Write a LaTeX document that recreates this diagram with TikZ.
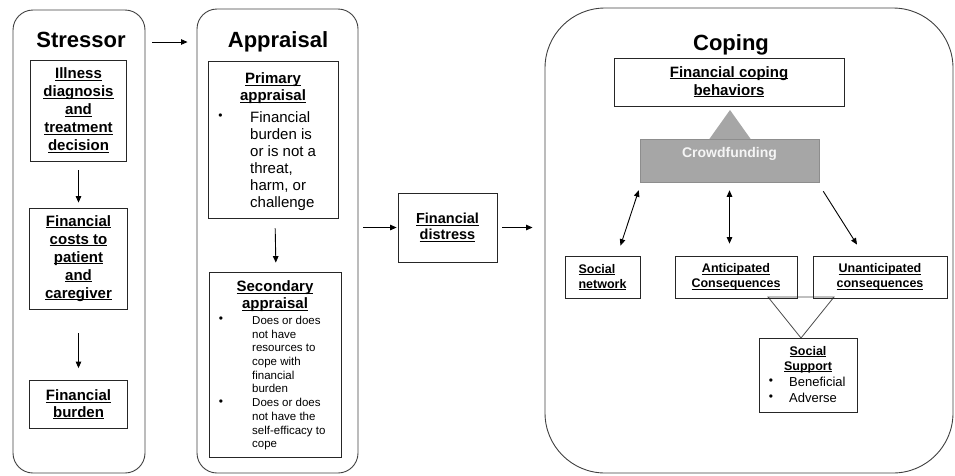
\documentclass[tikz,border=0pt]{standalone}
\usepackage{fontspec}
\setmainfont{Liberation Sans}
\usetikzlibrary{arrows.meta}
\newsavebox\ulbox
\newcommand\ulin[1]{\sbox\ulbox{#1}\rlap{\rule[-1.9pt]{\wd\ulbox}{0.9pt}}\usebox\ulbox}
\definecolor{cfgray}{HTML}{A6A6A6}
\definecolor{lineg}{HTML}{404040}
\definecolor{cftext}{HTML}{F5F5F5}
\begin{document}
\begin{tikzpicture}[x=1pt,y=-1pt,
  cont/.style={draw=lineg,line width=0.9pt,inner sep=0pt},
  box/.style={draw=black!85,line width=0.8pt,inner sep=0pt,align=center,
    font=\bfseries\fontsize{15}{18}\selectfont},
  smallbox/.style={box,font=\bfseries\fontsize{12.5}{15}\selectfont},
  ttl/.style={inner sep=0pt,anchor=base,font=\bfseries\fontsize{22}{26}\selectfont},
  head/.style={inner sep=0pt,align=center,font=\bfseries\fontsize{15}{17}\selectfont},
  lst/.style={inner sep=0pt,align=left,anchor=north west},
  bul/.style={inner sep=0pt,font=\fontsize{12}{12}\selectfont},
  arr/.style={line width=0.9pt,-{Triangle[length=6.5pt,width=5.5pt]}},
  dbl/.style={line width=0.9pt,{Triangle[length=6.5pt,width=5.5pt]}-{Triangle[length=6.5pt,width=5.5pt]}}]
\useasboundingbox (0,0) rectangle (955,475);
% containers
\node[cont,rounded corners=20pt,minimum width=132pt,minimum height=463pt] (stressor) at (79,241.5) {};
\node[cont,rounded corners=20pt,minimum width=161pt,minimum height=464pt] (appraisal) at (277.5,241) {};
\node[cont,rounded corners=60pt,minimum width=408pt,minimum height=465pt] (coping) at (749,240.5) {};
% titles
\node[ttl] (tstress) at (81,47) {Stressor};
\node[ttl] (tapp) at (278,47) {Appraisal};
\node[ttl] (tcop) at (731,50) {Coping};
% stressor column
\node[box,minimum width=96pt,minimum height=101pt] (ill) at (78.5,110.5)
  {\ulin{Illness}\\\ulin{diagnosis}\\\ulin{and}\\\ulin{treatment}\\\ulin{decision}};
\node[box,minimum width=98pt,minimum height=101pt] (costs) at (78.5,258.5)
  {\ulin{Financial}\\\ulin{costs to}\\\ulin{patient}\\\ulin{and}\\\ulin{caregiver}};
\node[box,minimum width=98pt,minimum height=48pt,font=\bfseries\fontsize{15}{16.5}\selectfont] (burden) at (78.5,404.5)
  {\ulin{Financial}\\\ulin{burden}};
% appraisal column
\node[box,minimum width=130pt,minimum height=157pt] (primary) at (273,139.5) {};
\node[head] (primh) at (273,88.5) {\ulin{Primary}\\\ulin{appraisal}};
\node[lst,font=\fontsize{15}{17}\selectfont] (priml) at (250,111.5)
  {Financial\\burden is\\or is not a\\threat,\\harm, or\\challenge};
\node[bul] (pb1) at (220.5,117) {\textbullet};
\node[box,minimum width=132pt,minimum height=185pt] (secondary) at (275,364.5) {};
\node[head] (sech) at (275,296.5) {\ulin{Secondary}\\\ulin{appraisal}};
\node[lst,font=\fontsize{11.5}{13.7}\selectfont] (secl) at (252,315.9)
  {Does or does\\not have\\resources to\\cope with\\financial\\burden\\Does or does\\not have the\\self-efficacy to\\cope};
\node[bul] (sb1) at (221,320) {\textbullet};
\node[bul] (sb2) at (221,403) {\textbullet};
% distress
\node[box,minimum width=99pt,minimum height=69pt,font=\bfseries\fontsize{14.5}{16}\selectfont] (distress) at (447.5,227.5)
  {\ulin{Financial}\\\ulin{distress}};
% coping
\node[box,minimum width=230pt,minimum height=48pt] (fcb) at (729,82)
  {\ulin{Financial coping}\\\ulin{behaviors}};
\fill[cfgray] (730,110) -- (709,139.5) -- (751,139.5) -- cycle;
\node[draw=cfgray!85!black,line width=0.5pt,fill=cfgray,inner sep=0pt,minimum width=179pt,minimum height=43pt] (crowd) at (729.5,160.5) {};
\node[inner sep=0pt,text=cftext,font=\bfseries\fontsize{14}{16}\selectfont] (crowdt) at (729.5,154) {Crowdfunding};
\draw[draw=black!70,line width=0.8pt,fill=white] (768,297) -- (834,297) -- (801,338) -- cycle;
\node[smallbox,align=left,minimum width=75pt,minimum height=42pt] (socnet) at (602.5,277)
  {\ulin{Social}\\\ulin{network}};
\node[smallbox,minimum width=122pt,minimum height=42pt] (antic) at (736,277)
  {\ulin{Anticipated}\\\ulin{Consequences}};
\node[smallbox,minimum width=134pt,minimum height=42pt] (unantic) at (880,277)
  {\ulin{Unanticipated}\\\ulin{consequences}};
\node[box,minimum width=98pt,minimum height=74pt] (socsup) at (808,375) {};
\node[head,font=\bfseries\fontsize{12.5}{15}\selectfont] (ssh) at (808,359.5) {\ulin{Social}\\\ulin{Support}};
\node[lst,font=\fontsize{13}{16}\selectfont] (ssl) at (789,377.2) {Beneficial\\Adverse};
\node[bul] (ssb1) at (771,382) {\textbullet};
\node[bul] (ssb2) at (771,398) {\textbullet};
% connectors
\coordinate (ya) at (0,42);
\draw[arr,shorten <=7pt,shorten >=9pt] (stressor.east |- ya) -- (appraisal.west |- ya);
\draw[arr,shorten <=9pt,shorten >=5pt] (ill.south) -- (costs.north);
\draw[arr,shorten <=24pt,shorten >=12pt] (costs.south) -- (burden.north);
\draw[arr,shorten <=10pt,shorten >=9pt] ([xshift=2pt]primary.south) -- ([xshift=1pt]secondary.north);
\draw[arr,shorten <=5pt,shorten >=1pt] (appraisal.east |- distress) -- (distress.west);
\draw[arr,shorten <=5pt,shorten >=12pt] (distress.east) -- (coping.west |- distress);
\draw[dbl] ([shift={(-1,8)}]crowd.south west) -- ([shift={(18,-10)}]socnet.north);
\draw[dbl] ([shift={(0,8)}]crowd.south) -- ([shift={(-6.5,-12)}]antic.north);
\draw[arr] ([shift={(4,9)}]crowd.south east) -- ([shift={(-23,-11)}]unantic.north);
\end{tikzpicture}
\end{document}
